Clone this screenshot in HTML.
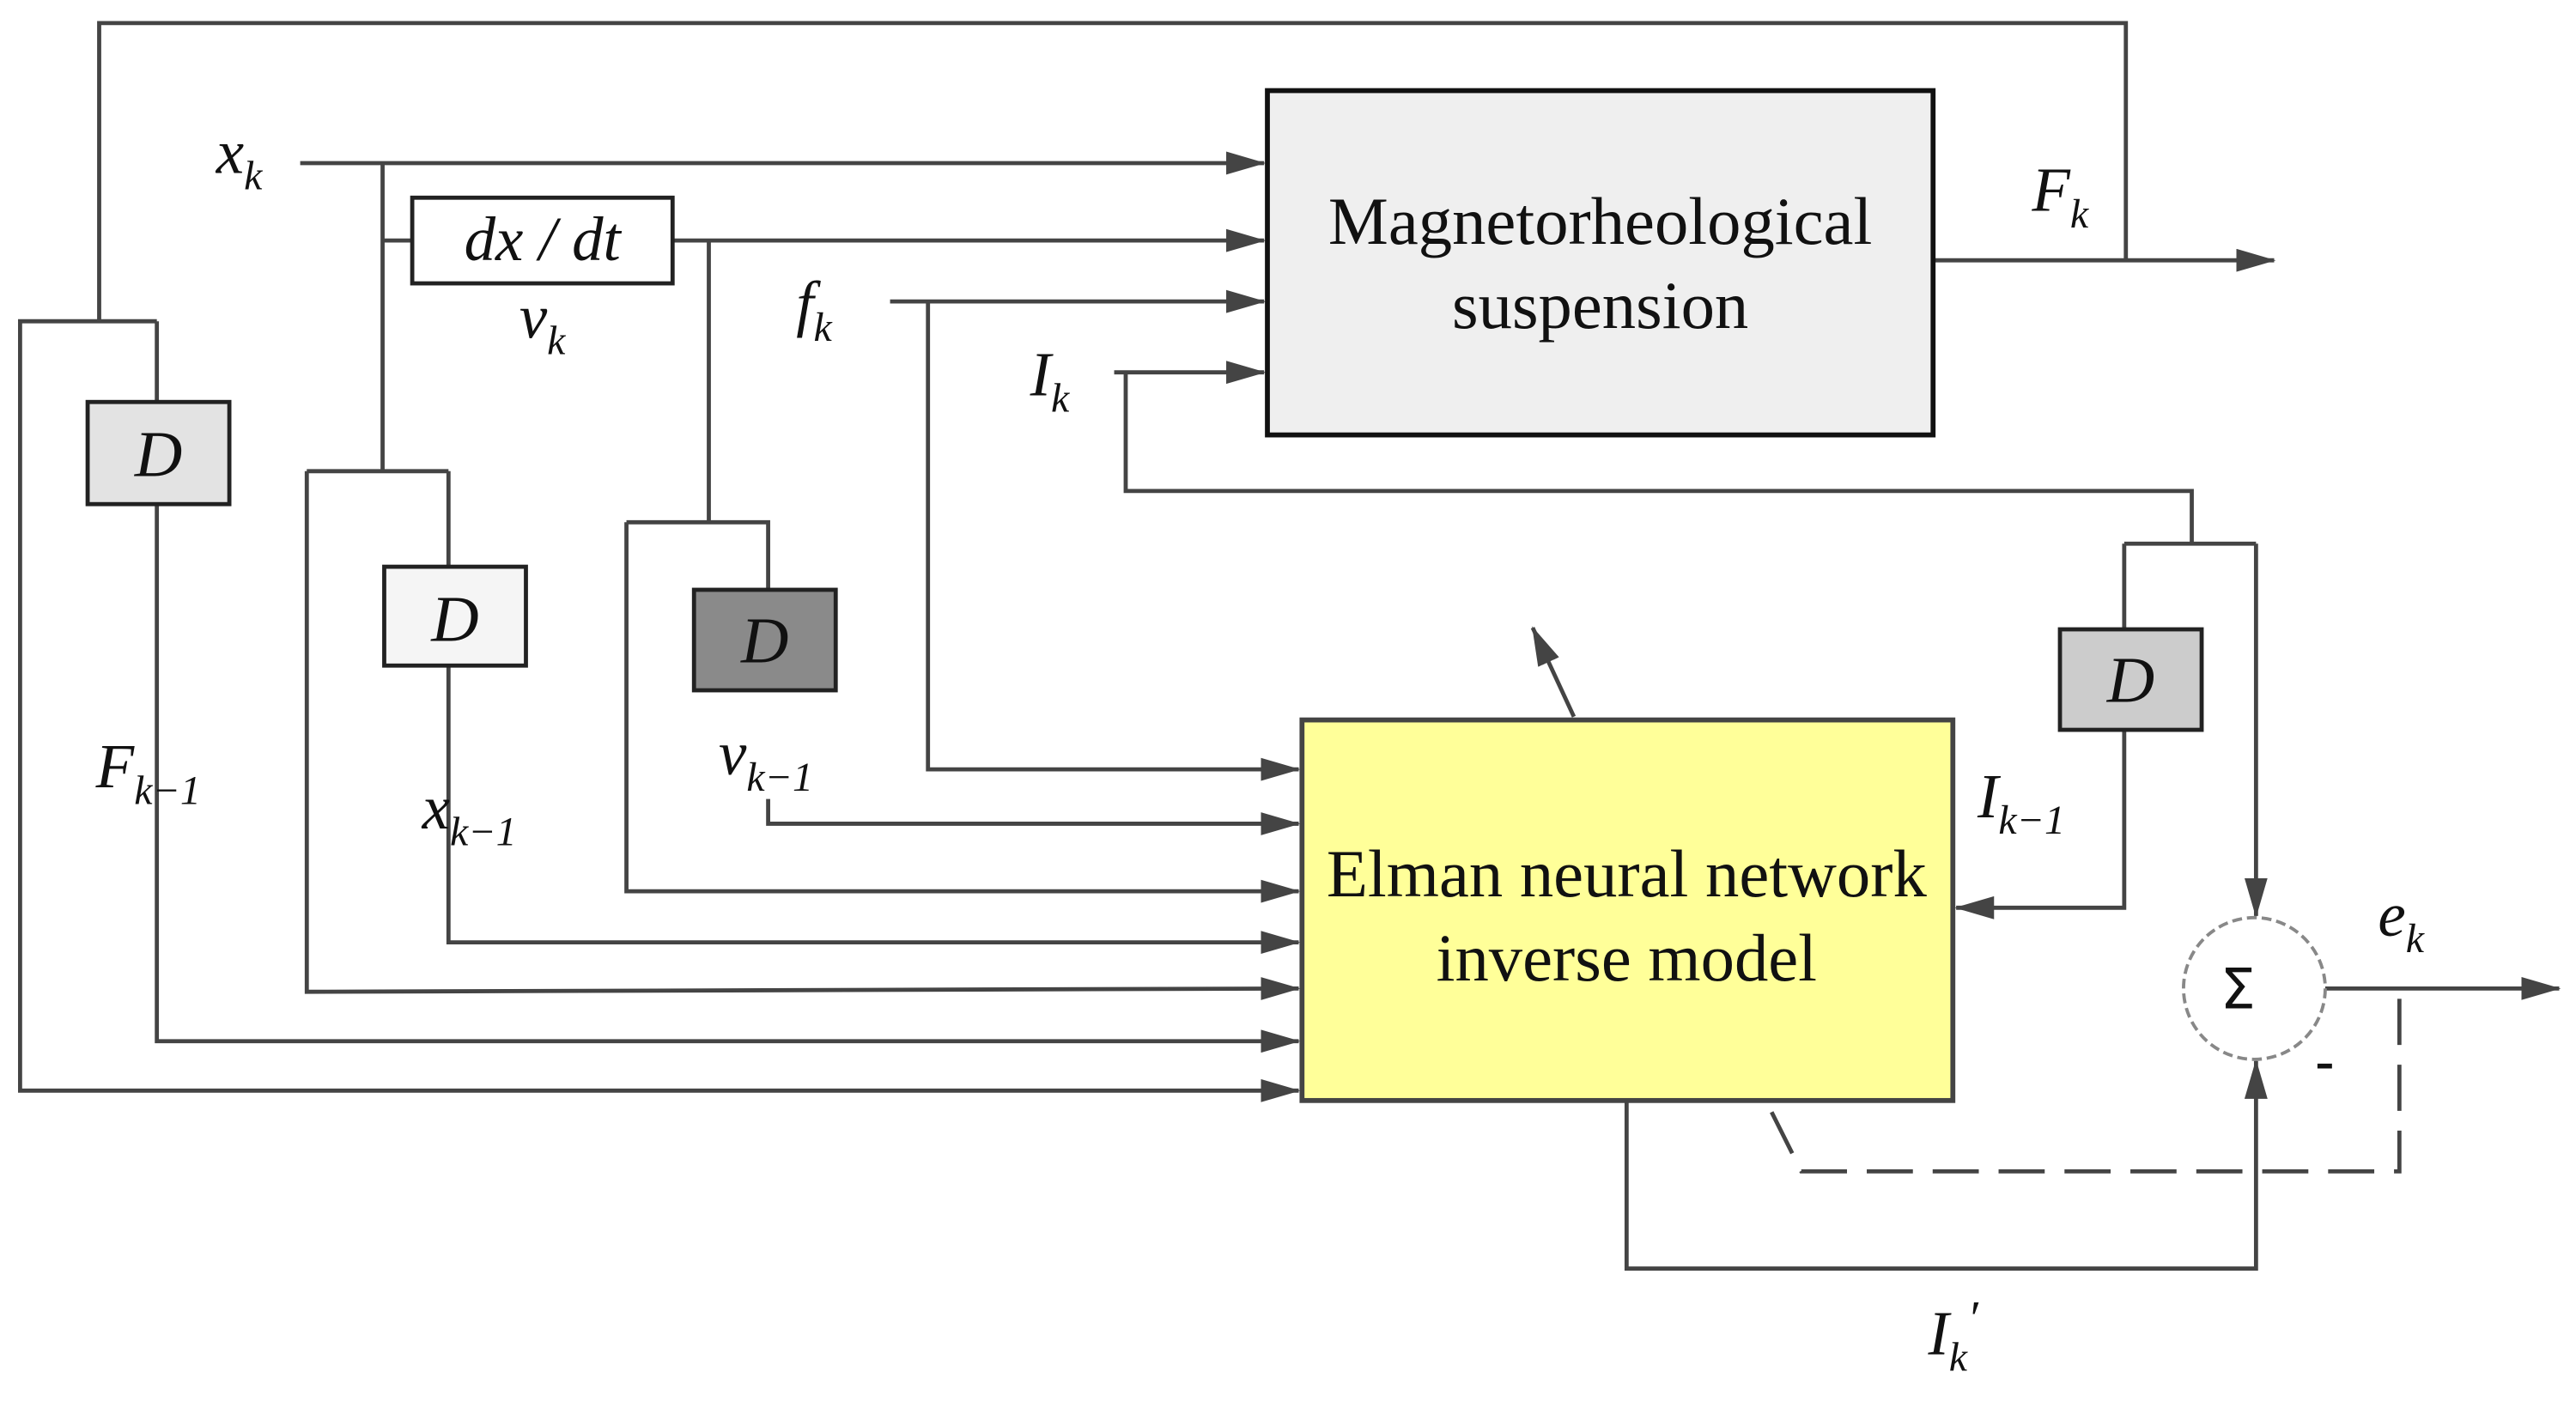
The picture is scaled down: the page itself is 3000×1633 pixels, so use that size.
<!DOCTYPE html>
<html><head><meta charset="utf-8"><style>
html,body{margin:0;padding:0;background:#fff;}
svg{display:block;}
text{font-family:"Liberation Serif",serif;fill:#111;}
.i{font-style:italic;}
</style></head><body>
<svg width="3000" height="1633" viewBox="0 0 1563 851" xmlns="http://www.w3.org/2000/svg">
<defs>
<marker id="b" markerWidth="24" markerHeight="14" refX="23" refY="7" orient="auto" markerUnits="userSpaceOnUse" viewBox="0 0 24 14">
<path d="M0,0 L24,7 L0,14 z" fill="#444"/></marker>
</defs>
<g fill="none" stroke="#444" stroke-width="2.5">
<polyline points="1290,158 1290,14 60,14 60,195"/>
<polyline points="95,195 12,195 12,662 788,662" marker-end="url(#b)"/>
<line x1="95" y1="195" x2="95" y2="244"/>
<polyline points="95,306 95,632 788,632" marker-end="url(#b)"/>
<line x1="182" y1="99" x2="767" y2="99" marker-end="url(#b)"/>
<line x1="232" y1="99" x2="232" y2="286"/>
<line x1="186" y1="286" x2="272" y2="286"/>
<polyline points="186,286 186,602 788,600" marker-end="url(#b)"/>
<line x1="272" y1="286" x2="272" y2="344"/>
<polyline points="272,404 272,572 788,572" marker-end="url(#b)"/>
<line x1="232" y1="146" x2="250" y2="146"/>
<line x1="408" y1="146" x2="767" y2="146" marker-end="url(#b)"/>
<line x1="430" y1="146" x2="430" y2="317"/>
<polyline points="380,317 466,317 466,358"/>
<polyline points="380,317 380,541 788,541" marker-end="url(#b)"/>
<polyline points="466,485 466,500 788,500" marker-end="url(#b)"/>
<line x1="540" y1="183" x2="767" y2="183" marker-end="url(#b)"/>
<polyline points="563,183 563,467 788,467" marker-end="url(#b)"/>
<line x1="676" y1="226" x2="767" y2="226" marker-end="url(#b)"/>
<polyline points="683,226 683,298 1330,298 1330,330"/>
<line x1="1289" y1="330" x2="1369" y2="330"/>
<line x1="1369" y1="330" x2="1369" y2="556" marker-end="url(#b)"/>
<line x1="1289" y1="330" x2="1289" y2="382"/>
<polyline points="1289,443 1289,551 1187,551" marker-end="url(#b)"/>
<line x1="1173" y1="158" x2="1380" y2="158" marker-end="url(#b)"/>
<line x1="955" y1="435" x2="930" y2="381" marker-end="url(#b)"/>
<polyline points="987,668 987,770 1369,770 1369,644" marker-end="url(#b)"/>
<line x1="1411" y1="600" x2="1553" y2="600" marker-end="url(#b)"/>
<polyline points="1075,675 1093,711 1456,711 1456,600" stroke-dasharray="28,12"/>
</g>
<rect x="769" y="55" width="404" height="209" fill="#efefef" stroke="#111" stroke-width="3"/>
<rect x="790" y="437" width="395" height="231" fill="#ffff99" stroke="#444" stroke-width="3"/>
<rect x="250" y="120" width="158" height="52" fill="#fff" stroke="#222" stroke-width="2.5"/>
<rect x="53" y="244" width="86" height="62" fill="#e3e3e3" stroke="#222" stroke-width="2.5"/>
<rect x="233" y="344" width="86" height="60" fill="#f5f5f5" stroke="#222" stroke-width="2.5"/>
<rect x="421" y="358" width="86" height="61" fill="#8a8a8a" stroke="#222" stroke-width="2.5"/>
<rect x="1250" y="382" width="86" height="61" fill="#cccccc" stroke="#222" stroke-width="2.5"/>
<circle cx="1368" cy="600" r="43" fill="#fff" stroke="#888" stroke-width="2" stroke-dasharray="6,3"/>
<text x="1358" y="612" font-size="34" text-anchor="middle" style="font-family:'DejaVu Sans',sans-serif">Σ</text>
<text x="1405" y="655" font-size="34" font-weight="bold">-</text>
<text x="971" y="148" font-size="41" text-anchor="middle">Magnetorheological</text>
<text x="971" y="199" font-size="41" text-anchor="middle">suspension</text>
<text x="987" y="544" font-size="41" text-anchor="middle">Elman neural network</text>
<text x="987" y="595" font-size="41" text-anchor="middle">inverse model</text>
<text x="329" y="158" font-size="38" class="i" text-anchor="middle">dx / dt</text>
<text x="96" y="289" font-size="40" class="i" text-anchor="middle">D</text>
<text x="276" y="389" font-size="40" class="i" text-anchor="middle">D</text>
<text x="464" y="402" font-size="40" class="i" text-anchor="middle">D</text>
<text x="1293" y="426" font-size="40" class="i" text-anchor="middle">D</text>
<text x="131" y="105" font-size="38" class="i">x<tspan font-size="25" dy="10">k</tspan></text>
<text x="315" y="205" font-size="38" class="i">v<tspan font-size="25" dy="10">k</tspan></text>
<text x="483" y="197" font-size="38" class="i">f<tspan font-size="25" dy="10">k</tspan></text>
<text x="625" y="240" font-size="38" class="i">I<tspan font-size="25" dy="10">k</tspan></text>
<text x="1233" y="128" font-size="38" class="i">F<tspan font-size="25" dy="10">k</tspan></text>
<text x="58" y="478" font-size="38" class="i">F<tspan font-size="25" dy="10">k−1</tspan></text>
<text x="256" y="503" font-size="38" class="i">x<tspan font-size="25" dy="10">k−1</tspan></text>
<text x="436" y="470" font-size="38" class="i">v<tspan font-size="25" dy="10">k−1</tspan></text>
<text x="1200" y="496" font-size="38" class="i">I<tspan font-size="25" dy="10">k−1</tspan></text>
<text x="1443" y="568" font-size="38" class="i">e<tspan font-size="25" dy="10">k</tspan></text>
<text x="1170" y="822" font-size="38" class="i">I<tspan font-size="25" dy="10">k</tspan><tspan dy="-22" font-size="30">′</tspan></text>
</svg>
</body></html>
